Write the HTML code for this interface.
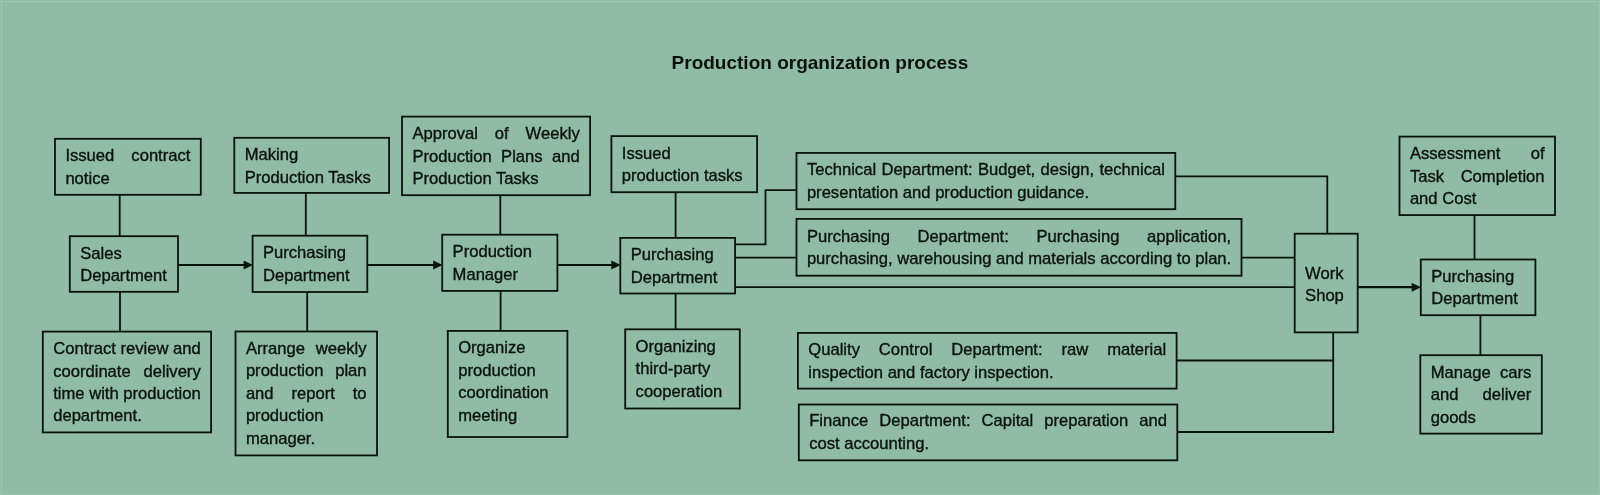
<!DOCTYPE html>
<html><head><meta charset="utf-8"><title>Production organization process</title>
<style>
html,body{margin:0;padding:0;}
body{width:1600px;height:495px;background:#90bba6;overflow:hidden;position:relative;font-family:"Liberation Sans",sans-serif;color:#09120d;}
svg{position:absolute;left:0;top:0;}
.t{position:absolute;height:23px;font-size:16.6px;line-height:23px;text-align:left;white-space:nowrap;-webkit-text-stroke:0.35px #09120d;}
.j{text-align:justify;text-align-last:justify;}
#tx{position:absolute;left:0;top:0;width:1600px;height:495px;will-change:transform;}
#title{position:absolute;left:671.6px;top:50.1px;width:296px;font-weight:bold;font-size:19px;line-height:26px;white-space:nowrap;}
</style></head><body>
<svg width="1600" height="495" viewBox="0 0 1600 495">
<g fill="none" stroke="#09120d" stroke-width="1.8">
<rect x="55" y="138.8" width="145.8" height="56.0"/>
<rect x="69.8" y="236.2" width="108.2" height="55.6"/>
<rect x="42.8" y="331.6" width="168.3" height="100.8"/>
<rect x="234.3" y="137.8" width="154.8" height="55.1"/>
<rect x="252.6" y="235.7" width="114.7" height="56.3"/>
<rect x="235.5" y="331.5" width="141.5" height="123.9"/>
<rect x="402" y="116.6" width="188.1" height="78.6"/>
<rect x="442.2" y="234.7" width="115.2" height="56.2"/>
<rect x="447.8" y="330.9" width="119.6" height="106.1"/>
<rect x="611.4" y="136.1" width="145.7" height="56.1"/>
<rect x="620.3" y="237.9" width="114.8" height="55.6"/>
<rect x="625.2" y="329.3" width="114.6" height="79.2"/>
<rect x="796.5" y="152.9" width="378.8" height="56.3"/>
<rect x="796.5" y="218.9" width="445.0" height="56.8"/>
<rect x="797.9" y="332.9" width="378.7" height="55.7"/>
<rect x="798.8" y="404.5" width="378.5" height="55.8"/>
<rect x="1294.7" y="233.7" width="63.0" height="98.7"/>
<rect x="1399.5" y="136.6" width="155.5" height="78.5"/>
<rect x="1420.8" y="259.5" width="114.6" height="55.7"/>
<rect x="1420.3" y="355.2" width="121.5" height="78.4"/>
<path d="M119.7,194.8V236.2"/>
<path d="M120,291.8V331.6"/>
<path d="M305.8,192.9V235.7"/>
<path d="M307.2,292V331.5"/>
<path d="M500.3,195.2V234.7"/>
<path d="M500.6,290.9V330.9"/>
<path d="M675.6,192.2V237.9"/>
<path d="M675.6,293.5V329.3"/>
<path d="M735.1,244.4H765.5V190.2H796.5"/>
<path d="M735.1,257.6H796.5"/>
<path d="M1241.5,257.6H1294.7"/>
<path d="M735.1,287.2H1294.7"/>
<path d="M1175.3,176.4H1327.3V233.7"/>
<path d="M1176.6,360.5H1333.2"/>
<path d="M1333.2,332.4V432H1177.3"/>
<path d="M1474.5,215.1V259.5"/>
<path d="M1480.4,315.2V354.8"/>
</g>
<g fill="none" stroke="#09120d" stroke-width="2.2">
<path d="M178,265H244.6"/>
<path d="M367.3,265H434.2"/>
<path d="M557.4,265H612.3"/>
<path d="M1357.7,287.2H1412.6"/>
</g>
<g fill="#09120d">
<path d="M253,265L243.6,260.5V269.5Z"/>
<path d="M442.6,265L433.2,260.5V269.5Z"/>
<path d="M620.7,265L611.3,260.5V269.5Z"/>
<path d="M1421,287.2L1411.6,282.7V291.7Z"/>
</g></svg>
<div style="position:absolute;left:1px;top:0;width:1px;height:495px;background:#9cc8b1"></div><div style="position:absolute;left:0;top:1px;width:1600px;height:1px;background:#9cc8b1"></div><div style="position:absolute;left:1599px;top:0;width:1px;height:495px;background:#98c3ad"></div><div style="position:absolute;left:0;top:494px;width:1600px;height:1px;background:#96c1ab"></div>
<div id="tx">
<div id="title">Production organization process</div>
<div class="t j" style="left:65.4px;top:144px;width:125.0px">Issued contract</div>
<div class="t" style="left:65.4px;top:167px;width:125.0px">notice</div>
<div class="t" style="left:80.2px;top:242px;width:87.4px">Sales</div>
<div class="t" style="left:80.2px;top:264px;width:87.4px">Department</div>
<div class="t j" style="left:53.2px;top:337px;width:147.5px">Contract review and</div>
<div class="t j" style="left:53.2px;top:360px;width:147.5px">coordinate delivery</div>
<div class="t j" style="left:53.2px;top:382px;width:147.5px">time with production</div>
<div class="t" style="left:53.2px;top:404px;width:147.5px">department.</div>
<div class="t" style="left:244.7px;top:143px;width:134.0px">Making</div>
<div class="t" style="left:244.7px;top:166px;width:134.0px">Production Tasks</div>
<div class="t" style="left:263.0px;top:241px;width:93.9px">Purchasing</div>
<div class="t" style="left:263.0px;top:264px;width:93.9px">Department</div>
<div class="t j" style="left:245.9px;top:337px;width:120.7px">Arrange weekly</div>
<div class="t j" style="left:245.9px;top:359px;width:120.7px">production plan</div>
<div class="t j" style="left:245.9px;top:382px;width:120.7px">and report to</div>
<div class="t" style="left:245.9px;top:404px;width:120.7px">production</div>
<div class="t" style="left:245.9px;top:427px;width:120.7px">manager.</div>
<div class="t j" style="left:412.4px;top:122px;width:167.3px">Approval of Weekly</div>
<div class="t j" style="left:412.4px;top:145px;width:167.3px">Production Plans and</div>
<div class="t" style="left:412.4px;top:167px;width:167.3px">Production Tasks</div>
<div class="t" style="left:452.6px;top:240px;width:94.4px">Production</div>
<div class="t" style="left:452.6px;top:263px;width:94.4px">Manager</div>
<div class="t" style="left:458.2px;top:336px;width:98.8px">Organize</div>
<div class="t" style="left:458.2px;top:359px;width:98.8px">production</div>
<div class="t" style="left:458.2px;top:381px;width:98.8px">coordination</div>
<div class="t" style="left:458.2px;top:404px;width:98.8px">meeting</div>
<div class="t" style="left:621.8px;top:142px;width:124.9px">Issued</div>
<div class="t" style="left:621.8px;top:164px;width:124.9px">production tasks</div>
<div class="t" style="left:630.7px;top:243px;width:94.0px">Purchasing</div>
<div class="t" style="left:630.7px;top:266px;width:94.0px">Department</div>
<div class="t" style="left:635.6px;top:335px;width:93.8px">Organizing</div>
<div class="t" style="left:635.6px;top:357px;width:93.8px">third-party</div>
<div class="t" style="left:635.6px;top:380px;width:93.8px">cooperation</div>
<div class="t j" style="left:806.9px;top:158px;width:358.0px">Technical Department: Budget, design, technical</div>
<div class="t" style="left:806.9px;top:181px;width:358.0px">presentation and production guidance.</div>
<div class="t j" style="left:806.9px;top:225px;width:424.2px">Purchasing Department: Purchasing application,</div>
<div class="t" style="left:806.9px;top:247px;width:424.2px">purchasing, warehousing and materials according to plan.</div>
<div class="t j" style="left:808.3px;top:338px;width:357.9px">Quality Control Department: raw material</div>
<div class="t" style="left:808.3px;top:361px;width:357.9px">inspection and factory inspection.</div>
<div class="t j" style="left:809.2px;top:409px;width:357.7px">Finance Department: Capital preparation and</div>
<div class="t" style="left:809.2px;top:432px;width:357.7px">cost accounting.</div>
<div class="t" style="left:1305.1px;top:262px;width:42.2px">Work</div>
<div class="t" style="left:1305.1px;top:284px;width:42.2px">Shop</div>
<div class="t j" style="left:1409.9px;top:142px;width:134.7px">Assessment of</div>
<div class="t j" style="left:1409.9px;top:165px;width:134.7px">Task Completion</div>
<div class="t" style="left:1409.9px;top:187px;width:134.7px">and Cost</div>
<div class="t" style="left:1431.2px;top:265px;width:93.8px">Purchasing</div>
<div class="t" style="left:1431.2px;top:287px;width:93.8px">Department</div>
<div class="t j" style="left:1430.7px;top:361px;width:100.7px">Manage cars</div>
<div class="t j" style="left:1430.7px;top:383px;width:100.7px">and deliver</div>
<div class="t" style="left:1430.7px;top:406px;width:100.7px">goods</div>
</div>
</body></html>
